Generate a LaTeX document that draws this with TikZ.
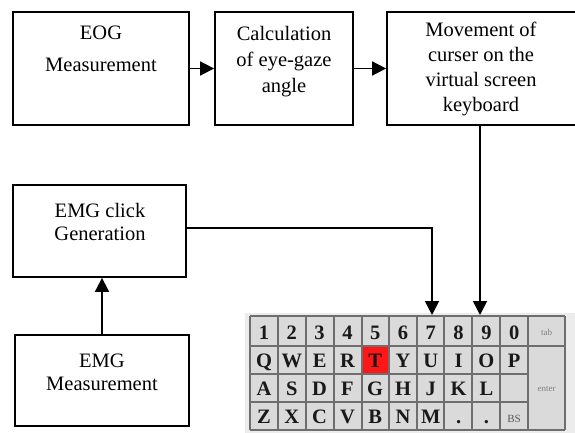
\documentclass[tikz,border=0pt]{standalone}
\usepackage{fontspec}
\setmainfont{Liberation Serif}
\usetikzlibrary{arrows.meta}
\definecolor{kbbg}{RGB}{236,236,236}
\definecolor{keyfill}{RGB}{218,218,218}
\definecolor{kline}{RGB}{110,110,110}
\definecolor{keyred}{RGB}{255,22,22}
\definecolor{keytext}{RGB}{25,25,25}
\begin{document}
\begin{tikzpicture}[x=1pt,y=-1pt,
  box/.style={draw=black, line width=1.8pt, inner sep=0pt},
  lbl/.style={anchor=base, inner sep=0pt, font=\rmfamily\fontsize{20.5}{24}\selectfont},
  arr/.style={line width=1.8pt, -{Triangle[length=14pt,width=14pt]}},
  kl/.style={draw=kline, line width=1.6pt},
  key/.style={anchor=base, inner sep=0pt, text=keytext, font=\rmfamily\fontsize{20.5}{20}\selectfont\bfseries},
  smallkey/.style={anchor=base, inner sep=0pt, text=gray, font=\rmfamily\fontsize{9}{9}\selectfont},
]
\path[use as bounding box, clip] (0,0) rectangle (575,433);
\fill[white] (0,0) rectangle (575,433);

% boxes
\node[box, minimum width=176pt, minimum height=113pt] (eog) at (101,68.5) {};
\node[box, minimum width=138pt, minimum height=113pt] (calc) at (284,68.5) {};
\node[box, minimum width=190pt, minimum height=113pt] (move) at (482,68.5) {};
\node[box, minimum width=173pt, minimum height=92pt] (click) at (99.5,231) {};
\node[box, minimum width=174pt, minimum height=91pt] (emg) at (102,380.5) {};

% texts
\node[lbl] (eog1) at (101,40) {EOG};
\node[lbl] (eog2) at (101,72) {Measurement};
\node[lbl] (calc1) at (284,41) {Calculation};
\node[lbl] (calc2) at (284,67) {of eye-gaze};
\node[lbl] (calc3) at (284,93) {angle};
\node[lbl] (move1) at (481,37) {Movement of};
\node[lbl] (move2) at (481,62) {curser on the};
\node[lbl] (move3) at (481,87) {virtual screen};
\node[lbl] (move4) at (481,112) {keyboard};
\node[lbl] (click1) at (100,217) {EMG click};
\node[lbl] (click2) at (100,240) {Generation};
\node[lbl] (emg1) at (102,367) {EMG};
\node[lbl] (emg2) at (102,390) {Measurement};

% keyboard
\fill[kbbg] (245,313) rectangle (575,433);
\fill[keyfill] (250,316) rectangle (565,430);
\fill[keyred] (362,346) rectangle (389,374);
\draw[kl] (250,316) -- (565,316);
\draw[kl] (250,346) -- (565,346);
\draw[kl] (250,374) -- (528,374);
\draw[kl] (250,402) -- (528,402);
\draw[kl] (250,430) -- (565,430);
\foreach \x in {250,278,306,334,362,389,417,444,472,500,528,565}
  \draw[kl] (\x,316) -- (\x,430);

\foreach \c [count=\i from 0] in {1,2,3,4,5,6,7,8,9,0}
  \node[key] (n\i) at ({264+27.8*\i},339) {\c};
\foreach \c [count=\i from 0] in {Q,W,E,R,T,Y,U,I,O,P}
  \node[key] (q\i) at ({264+27.8*\i},367) {\c};
\foreach \c [count=\i from 0] in {A,S,D,F,G,H,J,K,L}
  \node[key] (a\i) at ({264+27.8*\i},395) {\c};
\foreach \c [count=\i from 0] in {Z,X,C,V,B,N,M,.,.}
  \node[key] (z\i) at ({264+27.8*\i},423) {\c};
\node[smallkey, text=black!65, font=\rmfamily\fontsize{11}{11}\selectfont] (bs) at (514,422) {BS};
\node[smallkey] (tab) at (546.5,335) {tab};
\node[smallkey] (enter) at (546.5,391) {enter};

\coordinate (k1) at (432,315);
\coordinate (k2) at (480,315);

% connectors
\draw[arr] (eog.east) -- (calc.west);
\draw[arr] (calc.east) -- (move.west);
\draw[arr] (move.south -| k2) -- (k2);
\draw[arr] ([yshift=3pt]click.east) -| (k1);
\draw[arr] (emg.north) -- (emg.north |- click.south);
\end{tikzpicture}
\end{document}
